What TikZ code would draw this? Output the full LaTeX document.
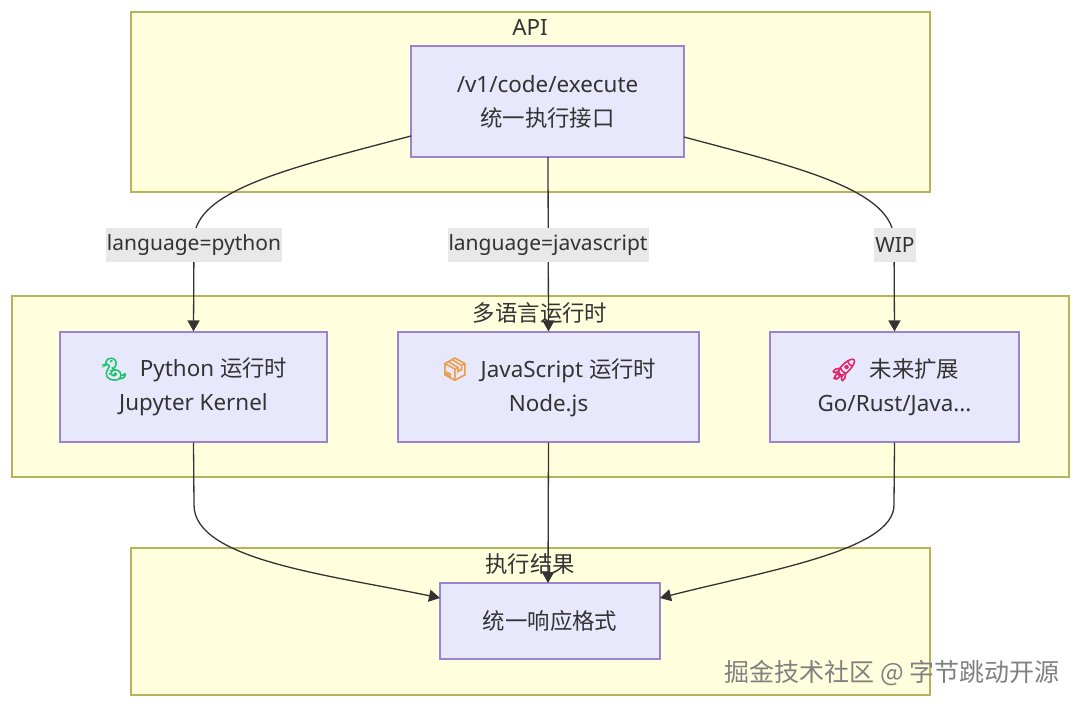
\documentclass[tikz,border=0pt]{standalone}
\usepackage{fontspec}
\setmainfont{Noto Sans}
\newfontfamily\cjk{Noto Sans CJK SC}
\newfontfamily\emoji[FakeBold=3]{Noto Emoji}
\usetikzlibrary{arrows.meta}
\definecolor{clusterfill}{HTML}{FFFFDE}
\definecolor{clusterline}{HTML}{B4B45A}
\definecolor{boxfill}{HTML}{E8E8FC}
\definecolor{boxline}{HTML}{9A85CC}
\definecolor{ink}{HTML}{333333}
\definecolor{labelfill}{HTML}{E8E8E8}
\tikzset{
  cluster/.style={draw=clusterline, fill=clusterfill, line width=1.2pt},
  title/.style={text=ink, inner sep=0pt, font=\fontsize{22.4}{28}\selectfont},
  box/.style={draw=boxline, fill=boxfill, line width=1.2pt, text=ink, align=center, inner sep=0pt,
    font=\fontsize{22.4}{34}\selectfont},
  edgelabel/.style={fill=labelfill, text=ink, inner xsep=1pt, inner ysep=0pt, minimum height=34pt,
    font=\fontsize{21}{28}\selectfont},
  link/.style={draw=ink, line width=1.3pt, -{Triangle[length=11pt,width=12pt]}}
}
\begin{document}
\begin{tikzpicture}[x=1pt, y=-1pt]
  \useasboundingbox (0,0) rectangle (1080,706);
  \fill [white] (0,0) rectangle (1080,706);

  \draw [cluster] (131,12) rectangle (930,192);
  \draw [cluster] (12,296) rectangle (1069,477);
  \draw [cluster] (131,548) rectangle (930,695);

  \node [title] (apititle) at (530,27) {API};
  \node [title] (runtitle) at (540,313) {\cjk 多语言运行时};
  \node [title] (restitle) at (530,564) {\cjk 执行结果};

  \node [box, minimum width=273pt, minimum height=111pt] (api) at (547.5,101.5)
    {/v1/code/execute\\{\cjk 统一执行接口}};
  \node [box, minimum width=267pt, minimum height=110pt] (python) at (193.5,387)
    {{\emoji\color[HTML]{1FC46B}\symbol{"1F40D}}\ \ Python {\cjk 运行时}\\Jupyter Kernel};
  \node [box, minimum width=301pt, minimum height=110pt] (js) at (548.5,387)
    {{\emoji\color[HTML]{E8A04C}\symbol{"1F4E6}}\ \ JavaScript {\cjk 运行时}\\Node.js};
  \node [box, minimum width=249pt, minimum height=110pt] (future) at (894.5,387)
    {{\emoji\color[HTML]{DC2A6A}\symbol{"1F680}}\ \ {\cjk 未来扩展}\\Go/Rust/Java...};
  \node [box, minimum width=220pt, minimum height=76pt] (result) at (550,621) {\cjk 统一响应格式};

  \coordinate (apileft) at (411,136);
  \coordinate (apiright) at (684,137);
  \coordinate (apimid) at (548,157);
  \coordinate (resleft) at (440,598);
  \coordinate (resright) at (660,598);
  \coordinate (restop) at (548,583);

  \draw [link] (apileft) .. controls (290,168) and (194,190) .. (194,240) -- (python.north);
  \draw [link] (apimid) -- (js.north);
  \draw [link] (apiright) .. controls (800,168) and (894,190) .. (894,240) -- (future.north);
  \draw [link] (python.south) -- (194,505) .. controls (194,560) and (330,575) .. (resleft);
  \draw [link] (js.south) -- (restop);
  \draw [link] (future.south) -- (894,505) .. controls (894,550) and (770,570) .. (resright);

  \node [edgelabel] (pylabel) at (194,245) {language=python};
  \node [edgelabel] (jslabel) at (548,245) {language=javascript};
  \node [edgelabel] (wiplabel) at (895,245) {WIP};

  \node [text=black!50, inner sep=0pt, font=\fontsize{25}{28}\selectfont] (watermark) at (892,673)
    {\cjk 掘金技术社区 @ 字节跳动开源};
\end{tikzpicture}
\end{document}
